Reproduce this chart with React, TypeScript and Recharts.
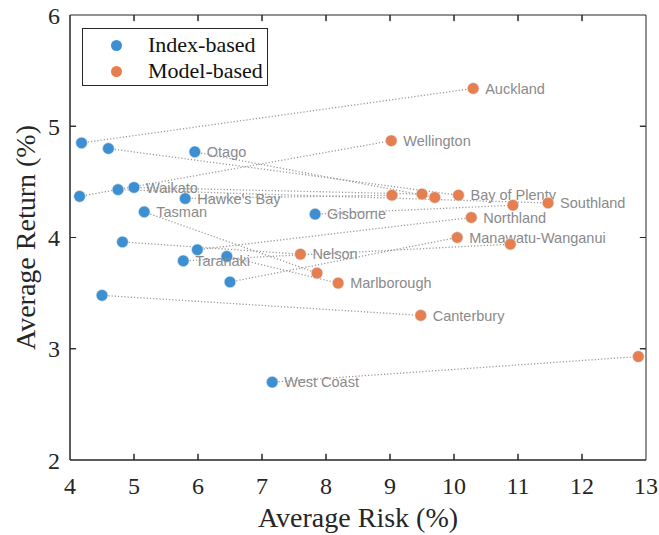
import { ScatterChart, Scatter, XAxis, YAxis, ReferenceLine, Legend } from "recharts";

const WIDTH = 659;
const HEIGHT = 535;
const BLUE = "#3d8fd1";
const ORANGE = "#e67f4f";
const LINE_COLOR = "#999999";
const LABEL_COLOR = "#8a8a8a";
const AXIS_COLOR = "#262626";
const SERIF = "'Liberation Serif', 'Times New Roman', serif";
const SANS = "'Liberation Sans', Arial, sans-serif";

const X_MIN = 4;
const X_MAX = 13;
const Y_MIN = 2;
const Y_MAX = 6;
// inward tick length, in data units (about 6px each way)
const X_TICK_LEN = 0.055;
const Y_TICK_LEN = 0.095;

const regions = [
  "Auckland",
  "Wellington",
  "Canterbury",
  "Bay of Plenty",
  "Southland",
  "Nelson",
  "Northland",
  "Marlborough",
  "Manawatu-Wanganui",
  "Otago",
  "Waikato",
  "Hawke's Bay",
  "Tasman",
  "Gisborne",
  "Taranaki",
  "West Coast",
];

const indexRisk = [4.18, 4.15, 4.5, 4.6, 4.75, 4.82, 5.99, 6.45, 6.5, 5.95, 5.0, 5.8, 5.16, 7.83, 5.77, 7.16];
const indexReturn = [4.85, 4.37, 3.48, 4.8, 4.43, 3.96, 3.89, 3.83, 3.6, 4.77, 4.45, 4.35, 4.23, 4.21, 3.79, 2.7];

const modelRisk = [10.3, 9.02, 9.48, 10.07, 11.47, 7.6, 10.27, 8.19, 10.05, 9.7, 9.5, 9.03, 7.86, 10.92, 10.88, 12.88];
const modelReturn = [5.34, 4.87, 3.3, 4.38, 4.31, 3.85, 4.18, 3.59, 4.0, 4.36, 4.39, 4.38, 3.68, 4.29, 3.94, 2.93];

// which end of each pair carries the region name
const labelOnModel = [true, true, true, true, true, true, true, true, true, false, false, false, false, false, false, false];

const xTicks = [4, 5, 6, 7, 8, 9, 10, 11, 12, 13];
const yTicks = [2, 3, 4, 5, 6];

const indexData = regions.map((name, i) => ({
  x: indexRisk[i],
  y: indexReturn[i],
  label: labelOnModel[i] ? "" : name,
}));

const modelData = regions.map((name, i) => ({
  x: modelRisk[i],
  y: modelReturn[i],
  label: labelOnModel[i] ? name : "",
}));

// box outline with inward ticks, walked as one polyline
const isInner = (t: number, list: number[]) => t !== list[0] && t !== list[list.length - 1];
const frame: { x: number; y: number }[] = [];
xTicks.forEach((t) => {
  frame.push({ x: t, y: Y_MIN });
  if (isInner(t, xTicks)) frame.push({ x: t, y: Y_MIN + X_TICK_LEN }, { x: t, y: Y_MIN });
});
yTicks.forEach((t) => {
  frame.push({ x: X_MAX, y: t });
  if (isInner(t, yTicks)) frame.push({ x: X_MAX - Y_TICK_LEN, y: t }, { x: X_MAX, y: t });
});
[...xTicks].reverse().forEach((t) => {
  frame.push({ x: t, y: Y_MAX });
  if (isInner(t, xTicks)) frame.push({ x: t, y: Y_MAX - X_TICK_LEN }, { x: t, y: Y_MAX });
});
[...yTicks].reverse().forEach((t) => {
  frame.push({ x: X_MIN, y: t });
  if (isInner(t, yTicks)) frame.push({ x: X_MIN + Y_TICK_LEN, y: t }, { x: X_MIN, y: t });
});

function Dot(props: any) {
  const { cx, cy, fill, payload } = props;
  return (
    <g>
      <circle cx={cx} cy={cy} r={5.8} fill={fill} stroke="#d8e4ee" strokeWidth={0.6} />
      {payload.label ? (
        <text
          x={cx + 12}
          y={cy}
          dy="0.36em"
          fill={LABEL_COLOR}
          fontSize={14.5}
          fontFamily={SANS}
        >
          {payload.label}
        </text>
      ) : null}
    </g>
  );
}

const NoDot = () => <g />;

function LegendBox() {
  const items = [
    { name: "Index-based", color: BLUE },
    { name: "Model-based", color: ORANGE },
  ];
  return (
    <div
      style={{
        border: `1px solid ${AXIS_COLOR}`,
        background: "#fff",
        width: 186,
        height: 58,
        padding: "3px 0 0 0",
        fontFamily: SERIF,
        fontSize: 22,
        color: "#111",
        boxSizing: "border-box",
        lineHeight: 1,
      }}
    >
      {items.map((it) => (
        <div key={it.name} style={{ display: "flex", alignItems: "center", height: 26 }}>
          <span
            style={{
              display: "inline-block",
              width: 11,
              height: 11,
              borderRadius: "50%",
              background: it.color,
              marginLeft: 28,
              marginRight: 26,
            }}
          />
          <span>{it.name}</span>
        </div>
      ))}
    </div>
  );
}

const tickStyle = { fill: AXIS_COLOR, fontSize: 24, fontFamily: SERIF };

export default function App() {
  return (
    <div style={{ position: "absolute", left: 0, top: 0, background: "#fff" }}>
      <ScatterChart
        width={WIDTH}
        height={HEIGHT}
        margin={{ top: 15, right: 13, left: 0, bottom: 0 }}
      >
        <XAxis
          type="number"
          dataKey="x"
          domain={[X_MIN, X_MAX]}
          ticks={xTicks}
          height={75}
          stroke={AXIS_COLOR}
          tickLine={false}
          tickSize={0}
          tickMargin={17}
          tick={tickStyle}
          label={{
            value: "Average Risk (%)",
            position: "insideBottom",
            offset: 8,
            fill: AXIS_COLOR,
            fontSize: 28,
            fontFamily: SERIF,
          }}
        />
        <YAxis
          type="number"
          dataKey="y"
          domain={[Y_MIN, Y_MAX]}
          ticks={yTicks}
          width={70}
          stroke={AXIS_COLOR}
          tickLine={false}
          tickSize={0}
          tickMargin={10}
          tick={tickStyle}
          label={{
            value: "Average Return (%)",
            angle: -90,
            position: "insideLeft",
            offset: 25,
            fill: AXIS_COLOR,
            fontSize: 28,
            fontFamily: SERIF,
            style: { textAnchor: "middle" },
          }}
        />
        <Scatter
          name="frame"
          data={frame}
          line={{ stroke: AXIS_COLOR, strokeWidth: 1 }}
          lineType="joint"
          shape={NoDot}
          legendType="none"
          isAnimationActive={false}
        />
        {regions.map((name, i) => (
          <ReferenceLine
            key={name}
            segment={[
              { x: indexRisk[i], y: indexReturn[i] },
              { x: modelRisk[i], y: modelReturn[i] },
            ]}
            stroke={LINE_COLOR}
            strokeWidth={1.3}
            strokeDasharray="1.2 2"
            ifOverflow="visible"
          />
        ))}
        <Legend
          layout="horizontal"
          verticalAlign="middle"
          align="center"
          wrapperStyle={{ top: 28, left: 82, width: "auto", height: "auto" }}
          content={() => <LegendBox />}
        />
        <Scatter
          name="Index-based"
          data={indexData}
          fill={BLUE}
          shape={Dot}
          isAnimationActive={false}
        />
        <Scatter
          name="Model-based"
          data={modelData}
          fill={ORANGE}
          shape={Dot}
          isAnimationActive={false}
        />
      </ScatterChart>
    </div>
  );
}
